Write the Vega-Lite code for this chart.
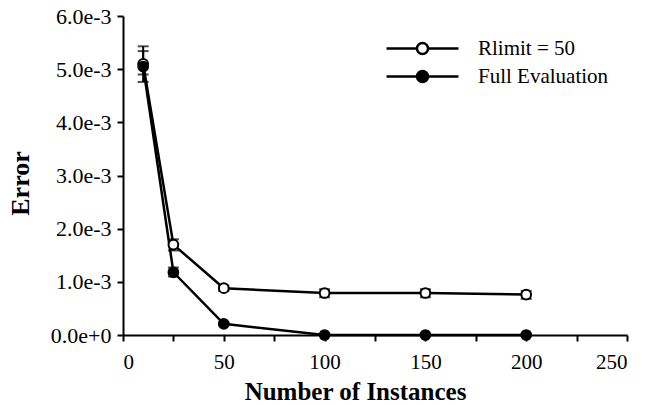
{
  "$schema": "https://vega.github.io/schema/vega-lite/v6.json",
  "width": 504,
  "height": 319,
  "autosize": "none",
  "padding": {"left": 123, "top": 16, "right": 18, "bottom": 70},
  "background": "white",
  "config": {
    "view": {"stroke": null},
    "font": "Times New Roman",
    "axis": {
      "grid": false,
      "domainColor": "black",
      "domainWidth": 2,
      "tickColor": "black",
      "tickWidth": 2,
      "tickSize": 6,
      "labelColor": "black",
      "labelFont": "Times New Roman",
      "labelFontSize": 20,
      "titleColor": "black",
      "titleFont": "Times New Roman",
      "titleFontWeight": "bold"
    }
  },
  "data": {
    "values": [
      {"series": "Rlimit = 50", "n": 10, "err": 0.00510, "lo": 0.00490, "hi": 0.00543},
      {"series": "Rlimit = 50", "n": 25, "err": 0.00170, "lo": 0.00159, "hi": 0.00180},
      {"series": "Rlimit = 50", "n": 50, "err": 0.00088, "lo": 0.00083, "hi": 0.00093},
      {"series": "Rlimit = 50", "n": 100, "err": 0.00079, "lo": 0.00071, "hi": 0.00086},
      {"series": "Rlimit = 50", "n": 150, "err": 0.00079, "lo": 0.00071, "hi": 0.00086},
      {"series": "Rlimit = 50", "n": 200, "err": 0.00076, "lo": 0.00068, "hi": 0.00083},
      {"series": "Full Evaluation", "n": 10, "err": 0.00505, "lo": 0.00476, "hi": 0.00534},
      {"series": "Full Evaluation", "n": 25, "err": 0.00118, "lo": 0.00110, "hi": 0.00127},
      {"series": "Full Evaluation", "n": 50, "err": 0.00021, "lo": 0.00018, "hi": 0.00024},
      {"series": "Full Evaluation", "n": 100, "err": 0.0, "lo": 0.0, "hi": 0.00002},
      {"series": "Full Evaluation", "n": 150, "err": 0.0, "lo": 0.0, "hi": 0.00002},
      {"series": "Full Evaluation", "n": 200, "err": 0.0, "lo": 0.0, "hi": 0.00002}
    ]
  },
  "encoding": {
    "x": {
      "field": "n",
      "type": "quantitative",
      "scale": {"domain": [0, 250], "nice": false},
      "axis": {
        "title": "Number of Instances",
        "titleFontSize": 25,
        "labelFontSize": 21,
        "values": [0, 25, 50, 75, 100, 125, 150, 175, 200, 225, 250],
        "labelExpr": "datum.value % 50 === 0 ? datum.label : ''",
        "labelPadding": 10,
        "titleX": 232,
        "titleY": 64,
        "titleAlign": "center",
        "titleBaseline": "alphabetic"
      }
    }
  },
  "layer": [
    {
      "mark": {"type": "line", "color": "black", "strokeWidth": 2.5},
      "encoding": {
        "y": {
          "field": "err",
          "type": "quantitative",
          "scale": {"domain": [0, 0.006], "nice": false},
          "axis": {
            "title": "Error",
            "titleFontSize": 26,
            "labelFontSize": 22,
            "values": [0, 0.0005, 0.001, 0.0015, 0.002, 0.0025, 0.003, 0.0035, 0.004, 0.0045, 0.005, 0.0055, 0.006],
            "labelExpr": "round(datum.value * 10000) % 10 === 0 ? format(datum.value, '.1e') : ''",
            "labelPadding": 6,
            "titleX": -95,
            "titleY": 167,
            "titleAlign": "center",
            "titleBaseline": "alphabetic",
            "titleAngle": -90
          }
        },
        "detail": {"field": "series"}
      }
    },
    {
      "mark": {"type": "rule", "color": "black", "strokeWidth": 2},
      "encoding": {
        "y": {"field": "lo", "type": "quantitative"},
        "y2": {"field": "hi"}
      }
    },
    {
      "mark": {"type": "tick", "color": "black", "thickness": 2, "size": 11, "orient": "horizontal"},
      "encoding": {"y": {"field": "lo", "type": "quantitative"}}
    },
    {
      "mark": {"type": "tick", "color": "black", "thickness": 2, "size": 11, "orient": "horizontal"},
      "encoding": {"y": {"field": "hi", "type": "quantitative"}}
    },
    {
      "mark": {"type": "point", "filled": true, "size": 95, "stroke": "black", "strokeWidth": 2, "opacity": 1},
      "encoding": {
        "y": {"field": "err", "type": "quantitative"},
        "fill": {
          "field": "series",
          "type": "nominal",
          "sort": ["Rlimit = 50", "Full Evaluation"],
          "scale": {"domain": ["Rlimit = 50", "Full Evaluation"], "range": ["white", "black"]},
          "legend": {
            "title": null,
            "orient": "none",
            "legendX": 283,
            "legendY": 16,
            "padding": 0,
            "rowPadding": 0,
            "symbolType": "M-2.4,0H-0.37M0.37,0H2.4M0.37,0A0.37,0.37,0,1,1,-0.37,0A0.37,0.37,0,1,1,0.37,0Z",
            "symbolSize": 900,
            "symbolStrokeColor": "black",
            "symbolStrokeWidth": 2.5,
            "symbolOpacity": 1,
            "labelOffset": 39,
            "labelFont": "Times New Roman",
            "labelFontSize": 21,
            "labelColor": "black",
            "labelLimit": 300
          }
        }
      }
    }
  ]
}
